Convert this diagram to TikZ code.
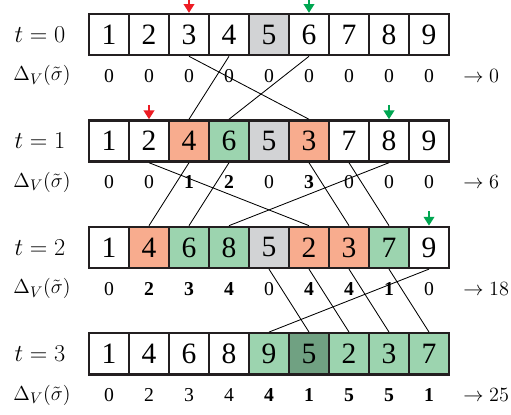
\documentclass[tikz,border=0pt]{standalone}
\usepackage{fontspec}
\setmainfont{Liberation Serif}
\usetikzlibrary{arrows.meta}

\definecolor{salmon}{HTML}{F8AC8E}
\definecolor{mint}{HTML}{9CD4AF}
\definecolor{pale}{HTML}{D2D3D5}
\definecolor{moss}{HTML}{70A182}
\definecolor{edge}{HTML}{231F20}
\definecolor{redmark}{HTML}{ED1C24}
\definecolor{greenmark}{HTML}{00A651}

\begin{document}
\begin{tikzpicture}[
  cell/.style={draw=edge,line width=1.6pt,minimum width=1cm,minimum height=1.03cm,inner sep=0pt,font=\fontsize{21}{21}\selectfont},
  hot/.style={cell,fill=salmon},
  cool/.style={cell,fill=mint},
  pivot/.style={cell,fill=pale},
  deep/.style={cell,fill=moss},
  cost/.style={inner sep=0pt,font=\fontsize{14}{14}\selectfont},
  tag/.style={inner sep=0pt,font=\fontsize{18}{18}\selectfont},
  rowlabel/.style={inner sep=0pt,font=\fontsize{15}{15}\selectfont},
  link/.style={line width=0.6pt},
  pick/.style={line width=1.8pt,-{Triangle[length=2.2mm,width=2.6mm]}}
]
  \useasboundingbox (-1.725,-1.53) rectangle (11.05,8.845);

  % t = 0
  \node[tag] (t0) at (-0.725,7.98) {$t=0$};
  \node[cell] (r0c1) at (1,7.98) {1};
  \node[cell] (r0c2) at (2,7.98) {2};
  \node[cell] (r0c3) at (3,7.98) {3};
  \node[cell] (r0c4) at (4,7.98) {4};
  \node[pivot] (r0c5) at (5,7.98) {5};
  \node[cell] (r0c6) at (6,7.98) {6};
  \node[cell] (r0c7) at (7,7.98) {7};
  \node[cell] (r0c8) at (8,7.98) {8};
  \node[cell] (r0c9) at (9,7.98) {9};
  \node[rowlabel] (dl0) at (-0.675,6.95) {$\Delta_V(\tilde\sigma)$};
  \node[cost] (d0c1) at (1,6.95) {0};
  \node[cost] (d0c2) at (2,6.95) {0};
  \node[cost] (d0c3) at (3,6.95) {0};
  \node[cost] (d0c4) at (4,6.95) {0};
  \node[cost] (d0c5) at (5,6.95) {0};
  \node[cost] (d0c6) at (6,6.95) {0};
  \node[cost] (d0c7) at (7,6.95) {0};
  \node[cost] (d0c8) at (8,6.95) {0};
  \node[cost] (d0c9) at (9,6.95) {0};
  \node[cost,anchor=west] (sum0) at (9.85,6.95) {$\rightarrow 0$};

  % t = 1
  \node[tag] (t1) at (-0.725,5.32) {$t=1$};
  \node[cell] (r1c1) at (1,5.32) {1};
  \node[cell] (r1c2) at (2,5.32) {2};
  \node[hot] (r1c3) at (3,5.32) {4};
  \node[cool] (r1c4) at (4,5.32) {6};
  \node[pivot] (r1c5) at (5,5.32) {5};
  \node[hot] (r1c6) at (6,5.32) {3};
  \node[cell] (r1c7) at (7,5.32) {7};
  \node[cell] (r1c8) at (8,5.32) {8};
  \node[cell] (r1c9) at (9,5.32) {9};
  \node[rowlabel] (dl1) at (-0.675,4.29) {$\Delta_V(\tilde\sigma)$};
  \node[cost] (d1c1) at (1,4.29) {0};
  \node[cost] (d1c2) at (2,4.29) {0};
  \node[cost] (d1c3) at (3,4.29) {\textbf{1}};
  \node[cost] (d1c4) at (4,4.29) {\textbf{2}};
  \node[cost] (d1c5) at (5,4.29) {0};
  \node[cost] (d1c6) at (6,4.29) {\textbf{3}};
  \node[cost] (d1c7) at (7,4.29) {0};
  \node[cost] (d1c8) at (8,4.29) {0};
  \node[cost] (d1c9) at (9,4.29) {0};
  \node[cost,anchor=west] (sum1) at (9.85,4.29) {$\rightarrow 6$};

  % t = 2
  \node[tag] (t2) at (-0.725,2.66) {$t=2$};
  \node[cell] (r2c1) at (1,2.66) {1};
  \node[hot] (r2c2) at (2,2.66) {4};
  \node[cool] (r2c3) at (3,2.66) {6};
  \node[cool] (r2c4) at (4,2.66) {8};
  \node[pivot] (r2c5) at (5,2.66) {5};
  \node[hot] (r2c6) at (6,2.66) {2};
  \node[hot] (r2c7) at (7,2.66) {3};
  \node[cool] (r2c8) at (8,2.66) {7};
  \node[cell] (r2c9) at (9,2.66) {9};
  \node[rowlabel] (dl2) at (-0.675,1.63) {$\Delta_V(\tilde\sigma)$};
  \node[cost] (d2c1) at (1,1.63) {0};
  \node[cost] (d2c2) at (2,1.63) {\textbf{2}};
  \node[cost] (d2c3) at (3,1.63) {\textbf{3}};
  \node[cost] (d2c4) at (4,1.63) {\textbf{4}};
  \node[cost] (d2c5) at (5,1.63) {0};
  \node[cost] (d2c6) at (6,1.63) {\textbf{4}};
  \node[cost] (d2c7) at (7,1.63) {\textbf{4}};
  \node[cost] (d2c8) at (8,1.63) {\textbf{1}};
  \node[cost] (d2c9) at (9,1.63) {0};
  \node[cost,anchor=west] (sum2) at (9.85,1.63) {$\rightarrow 18$};

  % t = 3
  \node[tag] (t3) at (-0.725,0) {$t=3$};
  \node[cell] (r3c1) at (1,0) {1};
  \node[cell] (r3c2) at (2,0) {4};
  \node[cell] (r3c3) at (3,0) {6};
  \node[cell] (r3c4) at (4,0) {8};
  \node[cool] (r3c5) at (5,0) {9};
  \node[deep] (r3c6) at (6,0) {5};
  \node[cool] (r3c7) at (7,0) {2};
  \node[cool] (r3c8) at (8,0) {3};
  \node[cool] (r3c9) at (9,0) {7};
  \node[rowlabel] (dl3) at (-0.675,-1.03) {$\Delta_V(\tilde\sigma)$};
  \node[cost] (d3c1) at (1,-1.03) {0};
  \node[cost] (d3c2) at (2,-1.03) {2};
  \node[cost] (d3c3) at (3,-1.03) {3};
  \node[cost] (d3c4) at (4,-1.03) {4};
  \node[cost] (d3c5) at (5,-1.03) {\textbf{4}};
  \node[cost] (d3c6) at (6,-1.03) {\textbf{1}};
  \node[cost] (d3c7) at (7,-1.03) {\textbf{5}};
  \node[cost] (d3c8) at (8,-1.03) {\textbf{5}};
  \node[cost] (d3c9) at (9,-1.03) {\textbf{1}};
  \node[cost,anchor=west] (sum3) at (9.85,-1.03) {$\rightarrow 25$};

  % moves
  \draw[link] (r0c3.south) -- (r1c6.north);
  \draw[link] (r0c4.south) -- (r1c3.north);
  \draw[link] (r0c6.south) -- (r1c4.north);
  \draw[link] (r1c2.south) -- (r2c6.north);
  \draw[link] (r1c3.south) -- (r2c2.north);
  \draw[link] (r1c4.south) -- (r2c3.north);
  \draw[link] (r1c6.south) -- (r2c7.north);
  \draw[link] (r1c7.south) -- (r2c8.north);
  \draw[link] (r1c8.south) -- (r2c4.north);
  \draw[link] (r2c5.south) -- (r3c6.north);
  \draw[link] (r2c6.south) -- (r3c7.north);
  \draw[link] (r2c7.south) -- (r3c8.north);
  \draw[link] (r2c8.south) -- (r3c9.north);
  \draw[link] (r2c9.south) -- (r3c5.north);

  % markers
  \coordinate (m0a) at ([yshift=3.6mm]r0c3.north);
  \coordinate (m0b) at ([yshift=3.6mm]r0c6.north);
  \coordinate (m1a) at ([yshift=3.6mm]r1c2.north);
  \coordinate (m1b) at ([yshift=3.6mm]r1c8.north);
  \coordinate (m2b) at ([yshift=3.6mm]r2c9.north);
  \draw[pick,redmark] (m0a) -- (r0c3.north);
  \draw[pick,greenmark] (m0b) -- (r0c6.north);
  \draw[pick,redmark] (m1a) -- (r1c2.north);
  \draw[pick,greenmark] (m1b) -- (r1c8.north);
  \draw[pick,greenmark] (m2b) -- (r2c9.north);
\end{tikzpicture}
\end{document}
